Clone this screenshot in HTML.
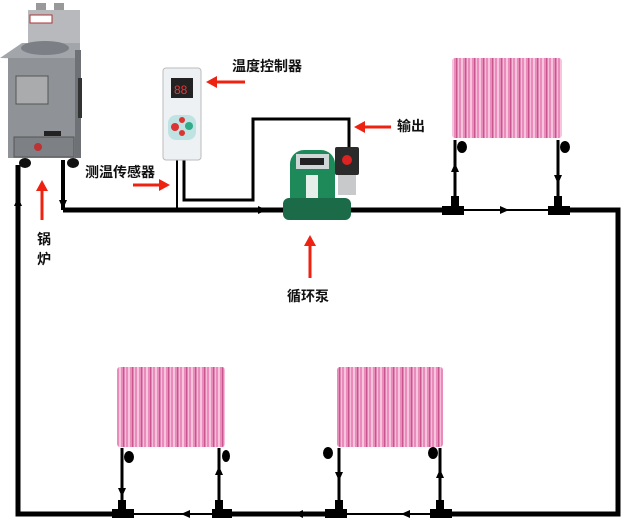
<!DOCTYPE html>
<html><head><meta charset="utf-8"><style>
html,body{margin:0;padding:0;background:#fff;}
svg{display:block}
text{font-family:"Liberation Sans","Noto Sans CJK SC",sans-serif;font-size:14px;font-weight:bold;fill:#111;}
</style></head><body>
<svg width="624" height="520" viewBox="0 0 624 520" xmlns="http://www.w3.org/2000/svg">
<defs>
<pattern id="fin" x="0" y="0" width="9" height="10" patternUnits="userSpaceOnUse">
<rect width="9" height="10" fill="#f4bcd8"/>
<rect x="0" width="6" height="10" fill="#e98cbb"/>
<rect x="2" width="2" height="10" fill="#f6c4dc"/>
<rect x="6" width="1.5" height="10" fill="#c9558f"/>
</pattern>
</defs>

<rect x="452" y="58" width="110" height="80" rx="3" fill="url(#fin)"/>
<rect x="117" y="367" width="108" height="80" rx="3" fill="url(#fin)"/>
<rect x="337" y="367" width="106" height="80" rx="3" fill="url(#fin)"/>

<g stroke="#000" fill="none">
<path d="M63 210 H452" stroke-width="5"/>
<path d="M452 210 H558" stroke-width="2"/>
<path d="M558 210 H618 V514 H441" stroke-width="5"/>
<path d="M441 514 H336" stroke-width="2"/>
<path d="M336 514 H222" stroke-width="5"/>
<path d="M222 514 H120" stroke-width="2"/>
<path d="M120 514 H18 V165" stroke-width="5"/>
<path d="M63 160 V210" stroke-width="4"/>
<path d="M455 140 V210 M558 140 V210 M122 448 V514 M219 448 V514 M339 448 V514 M440 448 V514" stroke-width="3"/>
<path d="M177 160 V210" stroke-width="2"/>
<path d="M184 160 V200 H253 V119 H349 V150" stroke-width="3"/>
</g>
<g fill="#000">
<rect x="442" y="206" width="22" height="9"/><rect x="451" y="196" width="8" height="14"/>
<rect x="548" y="206" width="22" height="9"/><rect x="554" y="196" width="8" height="14"/>
<rect x="112" y="509" width="22" height="9"/><rect x="118" y="500" width="8" height="14"/>
<rect x="212" y="509" width="20" height="9"/><rect x="215" y="500" width="8" height="14"/>
<rect x="325" y="509" width="22" height="9"/><rect x="335" y="500" width="8" height="14"/>
<rect x="430" y="509" width="22" height="9"/><rect x="436" y="500" width="8" height="14"/>
<ellipse cx="462" cy="147" rx="5" ry="6"/><ellipse cx="565" cy="147" rx="5" ry="6"/>
<ellipse cx="129" cy="457" rx="5" ry="6"/><ellipse cx="226" cy="456" rx="4" ry="6"/>
<ellipse cx="328" cy="453" rx="5" ry="6"/><ellipse cx="433" cy="453" rx="5" ry="6"/>
<path d="M451 172 l4 -9 l4 9z M554 175 l4 9 l4 -9z M118 488 l4 9 l4 -9z M215 475 l4 -9 l4 9z M335 472 l4 9 l4 -9z M436 478 l4 -9 l4 9z"/>
<path d="M500 206 l9 4 l-9 4z M190 510 l-9 4 l9 4z M303 510 l-9 4 l9 4z M410 510 l-9 4 l9 4z M14 206 l4 -9 l4 9z M59 200 l4 9 l4 -9z M258 206 l9 4 l-9 4z"/>
</g>

<!-- boiler -->
<g>
<rect x="36" y="3" width="10" height="8" fill="#999"/><rect x="54" y="3" width="10" height="8" fill="#999"/>
<rect x="28" y="10" width="52" height="40" fill="#b7b9bd"/>
<rect x="30" y="15" width="22" height="8" fill="#fff" stroke="#a33" stroke-width="1"/>
<polygon points="0,58 22,43 80,43 80,60" fill="#a2a5aa"/>
<ellipse cx="45" cy="48" rx="24" ry="7" fill="#7c8086"/>
<rect x="8" y="58" width="68" height="100" fill="#8f9297"/>
<rect x="75" y="50" width="6" height="108" fill="#6e7175"/>
<rect x="16" y="76" width="32" height="28" fill="#a9abad" stroke="#555"/>
<rect x="14" y="137" width="60" height="20" fill="#7d8085" stroke="#555"/>
<circle cx="38" cy="147" r="4" fill="#b33"/>
<rect x="44" y="131" width="17" height="5" fill="#222"/>
<rect x="78" y="78" width="4" height="40" fill="#333"/>
<ellipse cx="25" cy="163" rx="6" ry="5" fill="#111"/>
<ellipse cx="73" cy="163" rx="6" ry="5" fill="#111"/>
</g>

<!-- controller -->
<g>
<rect x="163" y="68" width="38" height="92" rx="3" fill="#eef1f3" stroke="#bbb"/>
<rect x="171" y="78" width="22" height="20" fill="#222"/>
<text x="174" y="94" style="fill:#e33;font-size:12px;font-weight:normal">88</text>
<rect x="168" y="115" width="28" height="25" rx="8" fill="#bfe3e3"/>
<circle cx="175" cy="127" r="4" fill="#d33"/><circle cx="189" cy="126" r="4" fill="#3a8"/>
<circle cx="182" cy="120" r="3" fill="#d33"/><circle cx="182" cy="133" r="3" fill="#d33"/>
</g>

<!-- pump -->
<g>
<rect x="290" y="150" width="45" height="65" rx="14" fill="#1e8a5a"/>
<rect x="296" y="154" width="33" height="15" fill="#cfd8d6"/>
<rect x="300" y="158" width="24" height="7" fill="#222"/>
<rect x="306" y="175" width="12" height="30" fill="#e6efe9"/>
<rect x="283" y="198" width="68" height="22" rx="6" fill="#1b6b48"/>
<rect x="335" y="147" width="24" height="28" rx="2" fill="#2b2b2b"/>
<circle cx="347" cy="160" r="5" fill="#d22"/>
<rect x="338" y="175" width="18" height="20" fill="#c7c9cb"/>
</g>

<g fill="#e21" stroke="#e21">
<path d="M216 82 H245" stroke-width="3"/><path d="M206 82 l11 -6 v12z" stroke="none"/>
<path d="M364 127 H391" stroke-width="3"/><path d="M354 127 l11 -6 v12z" stroke="none"/>
<path d="M133 185 H160" stroke-width="3"/><path d="M170 185 l-11 -6 v12z" stroke="none"/>
<path d="M42 190 V220" stroke-width="3"/><path d="M42 180 l-6 11 h12z" stroke="none"/>
<path d="M310 245 V278" stroke-width="3"/><path d="M310 235 l-6 11 h12z" stroke="none"/>
</g>

<text x="232" y="71">温度控制器</text>
<text x="397" y="131">输出</text>
<text x="85" y="177">测温传感器</text>
<text x="287" y="301">循环泵</text>
<text x="37" y="244">锅</text>
<text x="37" y="264">炉</text>
</svg>
</body></html>
